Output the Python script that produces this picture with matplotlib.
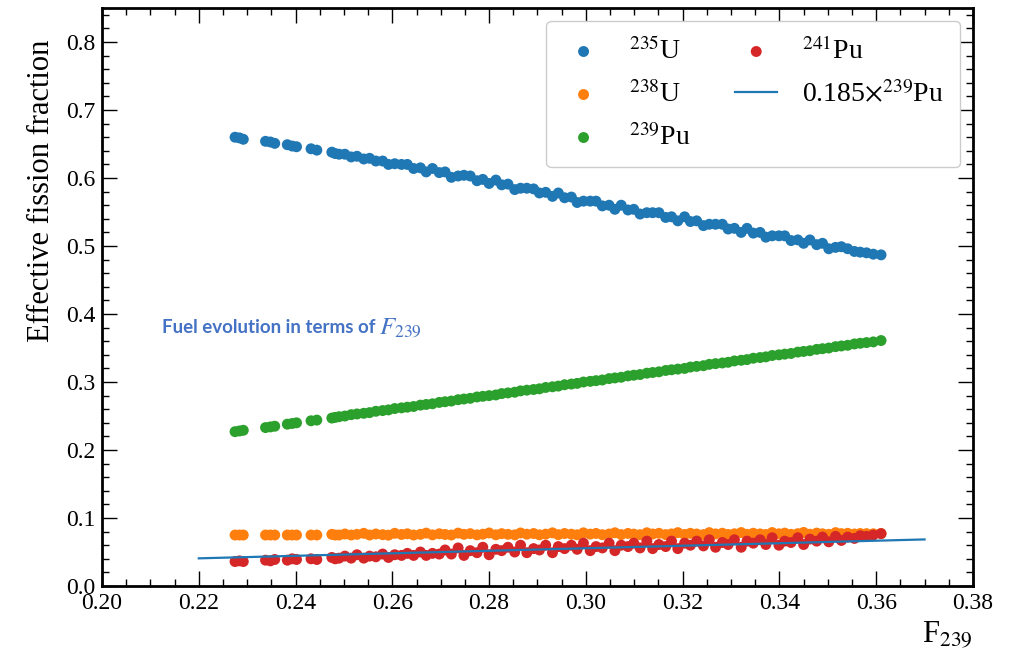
import matplotlib
matplotlib.use("Agg")
import matplotlib.pyplot as plt
from matplotlib.ticker import MultipleLocator, FormatStrFormatter

# ---------------- data ----------------
f239 = [0.2275, 0.2284, 0.2292, 0.2338, 0.2348, 0.2357, 0.2383, 0.2393, 0.2402, 0.2432,
        0.2444, 0.2475, 0.2482, 0.2490, 0.2502, 0.2515, 0.2527, 0.2541, 0.2553, 0.2566,
        0.2580, 0.2592, 0.2605, 0.2619, 0.2631, 0.2644, 0.2658, 0.2670, 0.2683, 0.2697,
        0.2709, 0.2722, 0.2736, 0.2748, 0.2761, 0.2775, 0.2787, 0.2800, 0.2814, 0.2826,
        0.2839, 0.2853, 0.2865, 0.2878, 0.2892, 0.2904, 0.2917, 0.2931, 0.2943, 0.2956,
        0.2970, 0.2982, 0.2995, 0.3009, 0.3021, 0.3034, 0.3048, 0.3060, 0.3073, 0.3087,
        0.3099, 0.3112, 0.3126, 0.3138, 0.3151, 0.3165, 0.3177, 0.3190, 0.3204, 0.3216,
        0.3229, 0.3243, 0.3255, 0.3268, 0.3282, 0.3294, 0.3307, 0.3321, 0.3333, 0.3346,
        0.3360, 0.3372, 0.3385, 0.3399, 0.3411, 0.3424, 0.3438, 0.3450, 0.3463, 0.3477,
        0.3489, 0.3502, 0.3516, 0.3528, 0.3541, 0.3555, 0.3567, 0.3580, 0.3594, 0.3610]

u235 = [0.660, 0.659, 0.657, 0.654, 0.653, 0.651, 0.649, 0.647, 0.646, 0.643,
        0.641, 0.638, 0.636, 0.635, 0.635, 0.631, 0.632, 0.628, 0.629, 0.625,
        0.625, 0.620, 0.621, 0.620, 0.620, 0.614, 0.615, 0.609, 0.614, 0.608,
        0.609, 0.601, 0.603, 0.604, 0.603, 0.596, 0.598, 0.592, 0.597, 0.590,
        0.591, 0.583, 0.585, 0.585, 0.584, 0.578, 0.579, 0.573, 0.578, 0.571,
        0.572, 0.564, 0.566, 0.566, 0.566, 0.559, 0.560, 0.554, 0.560, 0.553,
        0.554, 0.547, 0.549, 0.549, 0.549, 0.542, 0.543, 0.537, 0.543, 0.536,
        0.537, 0.530, 0.532, 0.532, 0.532, 0.525, 0.526, 0.520, 0.526, 0.519,
        0.520, 0.513, 0.515, 0.515, 0.515, 0.508, 0.509, 0.504, 0.509, 0.502,
        0.504, 0.496, 0.498, 0.499, 0.496, 0.492, 0.491, 0.490, 0.488, 0.487]

u238 = [0.0750, 0.0750, 0.0750, 0.0750, 0.0750, 0.0750, 0.0750, 0.0750, 0.0750, 0.0750,
        0.0750, 0.0760, 0.0750, 0.0750, 0.0765, 0.0750, 0.0760, 0.0775, 0.0750, 0.0765,
        0.0755, 0.0748, 0.0775, 0.0758, 0.0768, 0.0750, 0.0760, 0.0778, 0.0752, 0.0768,
        0.0758, 0.0750, 0.0778, 0.0760, 0.0770, 0.0752, 0.0762, 0.0780, 0.0753, 0.0770,
        0.0760, 0.0752, 0.0780, 0.0762, 0.0772, 0.0753, 0.0763, 0.0782, 0.0755, 0.0772,
        0.0762, 0.0753, 0.0782, 0.0763, 0.0773, 0.0755, 0.0765, 0.0783, 0.0756, 0.0773,
        0.0763, 0.0755, 0.0783, 0.0765, 0.0775, 0.0756, 0.0766, 0.0785, 0.0758, 0.0775,
        0.0765, 0.0756, 0.0785, 0.0766, 0.0776, 0.0758, 0.0768, 0.0786, 0.0760, 0.0776,
        0.0766, 0.0758, 0.0786, 0.0768, 0.0778, 0.0760, 0.0770, 0.0788, 0.0762, 0.0778,
        0.0768, 0.0760, 0.0785, 0.0770, 0.0775, 0.0765, 0.0772, 0.0770, 0.0768, 0.0772]

pu239 = [0.227, 0.228, 0.229, 0.233, 0.234, 0.235, 0.238, 0.239, 0.240, 0.243,
         0.244, 0.247, 0.248, 0.249, 0.250, 0.252, 0.253, 0.254, 0.255, 0.257,
         0.258, 0.259, 0.261, 0.262, 0.263, 0.264, 0.266, 0.267, 0.268, 0.270,
         0.271, 0.272, 0.274, 0.275, 0.276, 0.278, 0.279, 0.280, 0.281, 0.283,
         0.284, 0.285, 0.287, 0.288, 0.289, 0.290, 0.292, 0.293, 0.294, 0.296,
         0.297, 0.298, 0.300, 0.301, 0.302, 0.303, 0.305, 0.306, 0.307, 0.309,
         0.310, 0.311, 0.313, 0.314, 0.315, 0.317, 0.318, 0.319, 0.320, 0.322,
         0.323, 0.324, 0.326, 0.327, 0.328, 0.329, 0.331, 0.332, 0.333, 0.335,
         0.336, 0.337, 0.339, 0.340, 0.341, 0.342, 0.344, 0.345, 0.346, 0.348,
         0.349, 0.350, 0.352, 0.353, 0.354, 0.356, 0.357, 0.358, 0.359, 0.361]

pu241 = [0.036, 0.037, 0.036, 0.038, 0.037, 0.039, 0.038, 0.040, 0.039, 0.040,
         0.039, 0.042, 0.040, 0.041, 0.044, 0.041, 0.046, 0.041, 0.044, 0.043,
         0.047, 0.042, 0.046, 0.045, 0.048, 0.045, 0.050, 0.045, 0.048, 0.047,
         0.053, 0.047, 0.056, 0.045, 0.052, 0.049, 0.057, 0.046, 0.054, 0.052,
         0.057, 0.050, 0.060, 0.049, 0.055, 0.053, 0.060, 0.049, 0.058, 0.055,
         0.060, 0.054, 0.063, 0.052, 0.058, 0.056, 0.063, 0.052, 0.060, 0.058,
         0.063, 0.056, 0.066, 0.055, 0.061, 0.058, 0.066, 0.055, 0.063, 0.060,
         0.066, 0.059, 0.068, 0.057, 0.064, 0.061, 0.068, 0.057, 0.066, 0.063,
         0.068, 0.061, 0.071, 0.060, 0.066, 0.064, 0.071, 0.061, 0.069, 0.066,
         0.072, 0.065, 0.073, 0.067, 0.072, 0.070, 0.074, 0.073, 0.075, 0.077]

line_x = [0.22, 0.37]
line_y = [0.0407, 0.0685]

labels = [r'$^{235}$U', r'$^{238}$U', r'$^{239}$Pu', r'$^{241}$Pu', r'0.185$\times$$^{239}$Pu']
colors = ['#1f77b4', '#ff7f0e', '#2ca02c', '#d62728']

# ---------------- style ----------------
serif = ['Liberation Serif', 'DejaVu Serif']
plt.rcParams['font.family'] = serif
plt.rcParams['mathtext.fontset'] = 'stix'

fig = plt.figure(figsize=(10.23, 6.58), dpi=100)
ax = fig.add_axes([0.0997, 0.1094, 0.8514, 0.8784])

series = [u235, u238, pu239, pu241]
for ys, c, lab in zip(series, colors, labels[:4]):
    ax.scatter(f239, ys, s=62, color=c, label=lab, edgecolors='none', zorder=2)
ax.plot(line_x, line_y, color='#1f77b4', lw=1.6, label=labels[4], zorder=3)

ax.set_xlim(0.20, 0.38)
ax.set_ylim(0.0, 0.85)
ax.xaxis.set_major_locator(MultipleLocator(0.02))
ax.xaxis.set_minor_locator(MultipleLocator(0.005))
ax.yaxis.set_major_locator(MultipleLocator(0.1))
ax.yaxis.set_minor_locator(MultipleLocator(0.02))
ax.xaxis.set_major_formatter(FormatStrFormatter('%.2f'))
ax.yaxis.set_major_formatter(FormatStrFormatter('%.1f'))

ax.tick_params(which='both', direction='in', top=True, right=True, labelsize=17)
ax.tick_params(which='major', length=11, width=1.0, pad=5)
ax.tick_params(which='minor', length=5, width=1.0)
for lbl in ax.get_xticklabels() + ax.get_yticklabels():
    lbl.set_fontfamily(serif)
for sp in ax.spines.values():
    sp.set_linewidth(2.0)

ax.set_xlabel(r'F$_{239}$', fontsize=22, loc='right', labelpad=4)
ax.set_ylabel('Effective fission fraction', fontsize=22)
ax.yaxis.set_label_coords(-0.053, 0.683)

leg = ax.legend(ncol=2, loc='upper right', fontsize=20, scatterpoints=1,
                frameon=True, fancybox=True, framealpha=1.0, edgecolor='#cccccc',
                handletextpad=0.9, columnspacing=1.6, labelspacing=0.58,
                borderpad=0.6, handlelength=1.5, borderaxespad=0.45)

ax.text(0.2124, 0.372, 'Fuel evolution in terms of', color='#4472C4',
        fontsize=13.5, fontweight='bold', family=['Lato', 'DejaVu Sans'],
        ha='left', va='baseline')
ax.text(0.2572, 0.372, r'$F_{239}$', color='#4472C4', fontsize=18,
        ha='left', va='baseline')

fig.savefig('out.png', dpi=100)
